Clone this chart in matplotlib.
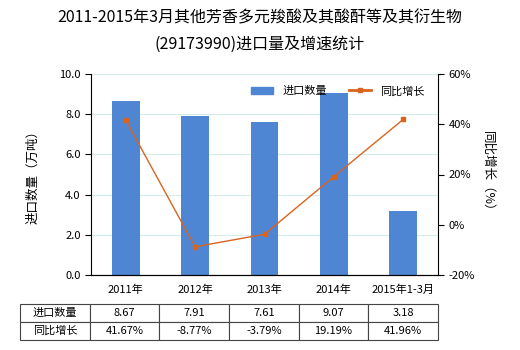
import matplotlib
matplotlib.use("Agg")
import matplotlib.pyplot as plt
from matplotlib.patches import Patch
from matplotlib.lines import Line2D

plt.rcParams['font.family'] = ['Noto Sans CJK SC', 'DejaVu Sans']

categories = ["2011年", "2012年", "2013年", "2014年", "2015年1-3月"]
import_qty = [8.67, 7.91, 7.61, 9.07, 3.18]
growth = [41.67, -8.77, -3.79, 19.19, 41.96]
qty_labels = ["8.67", "7.91", "7.61", "9.07", "3.18"]
growth_labels = ["41.67%", "-8.77%", "-3.79%", "19.19%", "41.96%"]

BAR_COLOR = "#4F86D4"
LINE_COLOR = "#D9641E"

fig = plt.figure(figsize=(5.2, 3.5), dpi=100)
W, H = 520, 350
ax = fig.add_axes([91 / W, 1 - 275 / H, 347 / W, 201 / H])

x = list(range(len(categories)))
ax.bar(x, import_qty, width=0.4, color=BAR_COLOR, zorder=2)
ax.set_xlim(-0.5, len(categories) - 0.5)
ax.set_ylim(0, 10)
ax.set_yticks([0, 2, 4, 6, 8, 10])
ax.set_yticklabels([f"{v:.1f}" for v in [0, 2, 4, 6, 8, 10]], fontsize=8)
ax.set_xticks(x)
ax.set_xticklabels(categories, fontsize=8)
ax.tick_params(axis="x", length=0, pad=7)
ax.tick_params(axis="y", length=4, direction="out")
ax.grid(axis="y", color="#D5ECEC", linewidth=0.8, zorder=0)
ax.spines["top"].set_visible(False)
ax.spines["right"].set_visible(False)
ax.set_ylabel("进口数量（万吨）", fontsize=9, labelpad=14)

ax2 = ax.twinx()
ax2.plot(x, growth, color=LINE_COLOR, marker="s", markersize=3.5, linewidth=1, zorder=3)
ax2.set_ylim(-20, 60)
ax2.set_yticks([-20, 0, 20, 40, 60])
ax2.set_yticklabels([f"{v}%" for v in [-20, 0, 20, 40, 60]], fontsize=8)
ax2.tick_params(axis="y", length=4, direction="out")
ax2.spines["top"].set_visible(False)
ax2.spines["left"].set_visible(False)
ax2.set_ylabel("同比增长（%）", fontsize=9, rotation=270, labelpad=14)

handles = [Patch(color=BAR_COLOR, label="进口数量"),
           Line2D([0], [0], color=LINE_COLOR, marker="s", markersize=2.5, linewidth=2, label="同比增长")]
ax2.legend(handles=handles, loc="upper right", bbox_to_anchor=(0.99, 0.99), ncol=2,
           frameon=False, fontsize=8, handlelength=2.0, columnspacing=2.0)

fig.text(0.5, 1 - 18 / H, "2011-2015年3月其他芳香多元羧酸及其酸酐等及其衍生物", ha="center", va="center", fontsize=11.5)
fig.text(0.5, 1 - 44 / H, "(29173990)进口量及增速统计", ha="center", va="center", fontsize=11.5)

# data table under the chart
tax = fig.add_axes([20 / W, 1 - 340 / H, 418 / W, 36 / H])
tax.axis("off")
rows = [["进口数量"] + qty_labels, ["同比增长"] + growth_labels]
tbl = tax.table(cellText=rows, bbox=[0, 0, 1, 1], cellLoc="center")
tbl.auto_set_font_size(False)
tbl.set_fontsize(8)
for (r, c), cell in tbl.get_celld().items():
    cell.set_edgecolor("#444444")
    cell.set_linewidth(0.8)
    if c == 0:
        cell._loc = "left"
        cell.PAD = 0.03

fig.savefig("out.png", dpi=100)
